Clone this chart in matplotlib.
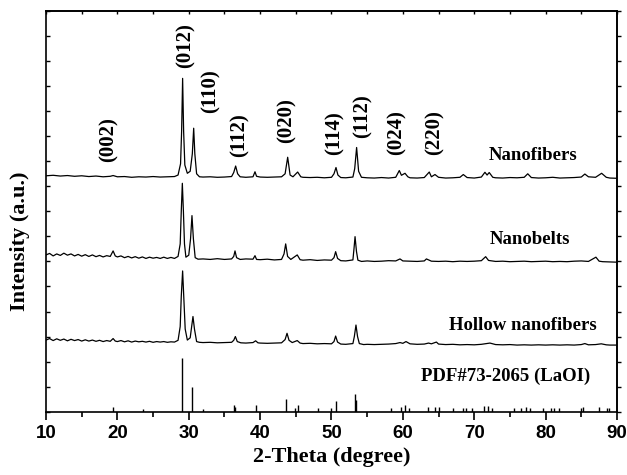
import numpy as np
import matplotlib
matplotlib.use('Agg')
import matplotlib.pyplot as plt
from matplotlib.ticker import MultipleLocator, NullFormatter

# ------------------
# XRD patterns (2-theta, offset intensity)

nf_x = [10.0, 11.0, 12.0, 13.0, 14.0, 15.0, 16.0, 17.0, 18.0, 19.0, 19.4, 20.0, 21.0, 22.0, 23.0,
        24.0, 25.0, 26.0, 27.0, 28.0, 28.5, 28.85, 29.0, 29.14, 29.28, 29.45, 29.8, 30.2, 30.5,
        30.69, 30.85, 31.1, 31.5, 32.0, 33.0, 34.0, 35.0, 36.0, 36.3, 36.57, 36.85, 37.2, 38.0,
        39.0, 39.28, 39.5, 40.0, 41.0, 42.0, 43.0, 43.5, 43.86, 44.2, 44.6, 45.26, 45.7, 46.0,
        47.0, 48.0, 49.0, 50.0, 50.35, 50.63, 50.9, 51.3, 52.0, 53.0, 53.25, 53.52, 53.8, 54.2,
        55.0, 56.0, 57.0, 58.0, 59.0, 59.5, 59.8, 60.3, 60.7, 61.0, 62.0, 63.0, 63.7, 64.0, 64.5,
        65.0, 66.0, 67.0, 68.0, 68.47, 69.0, 70.0, 71.0, 71.5, 71.8, 72.1, 72.6, 73.0, 74.0, 75.0,
        76.0, 77.0, 77.5, 78.0, 79.0, 80.0, 81.0, 82.0, 83.0, 84.0, 85.0, 85.5, 86.0, 87.0, 87.85,
        88.5, 89.0, 90.0]
nf_y = [9.42, 9.44, 9.41, 9.43, 9.40, 9.42, 9.39, 9.41, 9.38, 9.40, 9.43, 9.38, 9.39, 9.36, 9.38,
        9.37, 9.39, 9.37, 9.38, 9.39, 9.45, 9.90, 11.2, 13.31, 11.2, 9.85, 9.52, 9.60, 10.3,
        11.32, 10.3, 9.50, 9.38, 9.37, 9.38, 9.36, 9.37, 9.39, 9.55, 9.81, 9.50, 9.38, 9.36,
        9.38, 9.58, 9.40, 9.37, 9.36, 9.37, 9.38, 9.50, 10.16, 9.45, 9.38, 9.57, 9.38, 9.36,
        9.35, 9.36, 9.34, 9.36, 9.50, 9.75, 9.45, 9.35, 9.34, 9.37, 9.70, 10.55, 9.60, 9.36,
        9.34, 9.33, 9.35, 9.33, 9.36, 9.63, 9.44, 9.52, 9.38, 9.34, 9.33, 9.35, 9.57, 9.38, 9.47,
        9.36, 9.33, 9.34, 9.36, 9.47, 9.35, 9.33, 9.37, 9.56, 9.45, 9.55, 9.36, 9.34, 9.33, 9.35,
        9.34, 9.36, 9.50, 9.35, 9.33, 9.34, 9.36, 9.33, 9.34, 9.35, 9.37, 9.49, 9.38, 9.36, 9.52,
        9.36, 9.33, 9.32]

nb_x = [10.0, 10.5, 11.0, 11.5, 12.0, 12.5, 13.0, 13.5, 14.0, 14.5, 15.0, 15.5, 16.0, 16.5, 17.0,
        17.5, 18.0, 18.5, 19.0, 19.4, 19.7, 20.0, 20.5, 21.0, 21.5, 22.0, 22.5, 23.0, 23.5, 24.0,
        24.5, 25.0, 25.5, 26.0, 26.5, 27.0, 27.5, 28.0, 28.5, 28.8, 28.95, 29.1, 29.25, 29.4,
        29.6, 30.0, 30.25, 30.45, 30.65, 30.9, 31.3, 32.0, 33.0, 34.0, 35.0, 36.0, 36.3, 36.48,
        36.7, 37.2, 38.0, 39.0, 39.28, 39.5, 40.0, 41.0, 42.0, 43.0, 43.35, 43.58, 43.85, 44.3,
        45.2, 45.6, 46.0, 47.0, 48.0, 49.0, 50.0, 50.35, 50.58, 50.85, 51.3, 52.0, 53.0, 53.15,
        53.3, 53.5, 53.7, 54.2, 55.0, 56.0, 57.0, 58.0, 59.0, 59.6, 60.0, 61.0, 62.0, 63.0, 63.3,
        64.0, 65.0, 66.0, 67.0, 68.0, 69.0, 70.0, 71.0, 71.6, 72.0, 73.0, 74.0, 75.0, 76.0, 77.0,
        78.0, 79.0, 80.0, 81.0, 82.0, 83.0, 84.0, 85.0, 86.0, 87.05, 87.5, 88.0, 89.0, 90.0]
nb_y = [6.26, 6.32, 6.22, 6.30, 6.24, 6.33, 6.25, 6.30, 6.22, 6.28, 6.21, 6.27, 6.20, 6.26, 6.19,
        6.24, 6.18, 6.23, 6.20, 6.42, 6.22, 6.18, 6.22, 6.15, 6.20, 6.14, 6.19, 6.13, 6.18, 6.12,
        6.17, 6.13, 6.16, 6.12, 6.17, 6.12, 6.16, 6.12, 6.20, 6.70, 8.00, 9.12, 8.00, 6.70,
        6.17, 6.25, 6.90, 7.83, 6.90, 6.15, 6.09, 6.10, 6.08, 6.11, 6.08, 6.10, 6.20, 6.42,
        6.15, 6.08, 6.10, 6.09, 6.23, 6.08, 6.07, 6.09, 6.06, 6.08, 6.30, 6.70, 6.20, 6.08,
        6.26, 6.07, 6.05, 6.07, 6.04, 6.06, 6.05, 6.15, 6.39, 6.12, 6.03, 6.02, 6.06, 6.50,
        6.99, 6.40, 6.05, 6.00, 6.02, 6.00, 6.01, 6.03, 6.02, 6.10, 6.02, 6.01, 6.00, 6.02, 6.10,
        6.01, 6.00, 6.01, 5.99, 6.01, 6.00, 6.01, 6.03, 6.19, 6.04, 6.00, 6.01, 5.99, 6.00, 6.01,
        5.99, 6.00, 6.01, 5.99, 6.00, 5.99, 6.01, 6.02, 6.00, 6.17, 6.01, 5.99, 5.98, 5.97]

hn_x = [10.0, 10.5, 11.0, 11.5, 12.0, 12.5, 13.0, 13.5, 14.0, 14.5, 15.0, 15.5, 16.0, 16.5, 17.0,
        17.5, 18.0, 18.5, 19.0, 19.4, 19.7, 20.0, 20.5, 21.0, 21.5, 22.0, 22.5, 23.0, 23.5, 24.0,
        24.5, 25.0, 25.5, 26.0, 26.5, 27.0, 27.5, 28.0, 28.5, 28.8, 28.95, 29.14, 29.3, 29.5,
        29.8, 30.2, 30.4, 30.59, 30.8, 31.1, 31.5, 32.0, 33.0, 34.0, 35.0, 36.0, 36.3, 36.53,
        36.8, 37.3, 38.0, 39.0, 39.37, 39.7, 40.0, 41.0, 42.0, 43.0, 43.5, 43.77, 44.05, 44.5,
        45.2, 45.6, 46.0, 47.0, 48.0, 49.0, 50.0, 50.35, 50.58, 50.85, 51.3, 52.0, 53.0, 53.2,
        53.43, 53.65, 53.9, 54.5, 55.0, 56.0, 57.0, 58.0, 59.0, 59.6, 60.0, 60.44, 61.0, 62.0,
        63.0, 63.6, 64.0, 64.7, 65.0, 66.0, 67.0, 68.0, 69.0, 70.0, 71.0, 72.2, 73.0, 74.0, 75.0,
        76.0, 77.0, 78.0, 79.0, 80.0, 81.0, 82.0, 83.0, 84.0, 85.0, 85.5, 86.0, 87.0, 87.8, 88.5,
        89.0, 90.0]
hn_y = [2.86, 2.92, 2.84, 2.91, 2.85, 2.90, 2.83, 2.89, 2.84, 2.88, 2.82, 2.87, 2.82, 2.86, 2.81,
        2.85, 2.80, 2.84, 2.81, 2.92, 2.82, 2.80, 2.84, 2.79, 2.83, 2.78, 2.82, 2.79, 2.81, 2.78,
        2.81, 2.77, 2.80, 2.78, 2.80, 2.77, 2.79, 2.78, 2.85, 3.40, 4.60, 5.62, 4.60, 3.30,
        2.86, 2.95, 3.40, 3.80, 3.30, 2.80, 2.77, 2.76, 2.77, 2.75, 2.76, 2.77, 2.85, 3.00,
        2.80, 2.75, 2.74, 2.76, 2.83, 2.75, 2.74, 2.73, 2.74, 2.75, 2.88, 3.13, 2.85, 2.76,
        2.84, 2.74, 2.72, 2.73, 2.71, 2.72, 2.71, 2.80, 3.02, 2.78, 2.70, 2.69, 2.72, 3.00,
        3.46, 3.00, 2.72, 2.68, 2.69, 2.68, 2.69, 2.70, 2.72, 2.76, 2.73, 2.80, 2.71, 2.69,
        2.70, 2.74, 2.71, 2.78, 2.70, 2.68, 2.69, 2.67, 2.68, 2.67, 2.69, 2.74, 2.68, 2.67, 2.68,
        2.66, 2.67, 2.66, 2.67, 2.66, 2.67, 2.66, 2.67, 2.66, 2.68, 2.72, 2.67, 2.68, 2.71, 2.67,
        2.66, 2.66]

# PDF#73-2065 reference lines
pdf_pos = [19.43, 23.6, 29.09, 30.45, 32.03, 36.38, 36.5, 39.46, 43.61, 44.87, 45.34, 48.15,
           49.93, 50.63, 53.3, 53.5, 58.3, 59.7, 60.3, 60.86, 63.47, 64.5, 65.1, 67.07, 68.47,
           68.8, 69.7, 71.36, 71.88, 72.44, 75.57, 76.5, 77.25, 77.8, 79.6, 80.7, 81.2, 81.87,
           84.95, 85.28, 87.47, 88.55, 88.9]
pdf_int = [0.20, 0.12, 2.13, 0.97, 0.12, 0.27, 0.20, 0.25, 0.49, 0.16, 0.28, 0.16,
           0.13, 0.43, 0.71, 0.47, 0.16, 0.20, 0.27, 0.16, 0.20, 0.20, 0.17, 0.13, 0.16,
           0.16, 0.16, 0.23, 0.23, 0.16, 0.13, 0.16, 0.17, 0.16, 0.13, 0.16, 0.16, 0.16,
           0.13, 0.20, 0.20, 0.13, 0.13]

hkl_text = ['(002)', '(012)', '(110)', '(112)', '(020)', '(114)', '(112)', '(024)', '(220)']
hkl_x = [18.7, 29.5, 33.06, 37.08, 43.7, 50.5, 54.37, 59.13, 64.5]
hkl_y = [10.85, 14.62, 12.82, 11.05, 11.62, 11.11, 11.81, 11.15, 11.15]

sample_text = ['Nanofibers', 'Nanobelts', 'Hollow nanofibers', 'PDF#73-2065 (LaOI)']
sample_x = [78.2, 77.8, 76.8, 74.4]
sample_y = [10.24, 6.86, 3.46, 1.40]


serif = 'Liberation Serif'
sans = 'Liberation Sans'

fig = plt.figure(figsize=(6.27, 4.75), dpi=100)
ax = fig.add_axes((0.0734, 0.1333, 0.9106, 0.8435))

for xs, ys in [(nf_x, nf_y), (nb_x, nb_y), (hn_x, hn_y)]:
    ax.plot(xs, ys, color='k', lw=0.9)

ax.vlines(pdf_pos, 0, pdf_int, color='k', lw=1.0)

for t, x, y in zip(hkl_text, hkl_x, hkl_y):
    ax.text(x, y, t, rotation=90, ha='center', va='center',
            fontsize=15, fontweight='bold', family=serif)

for t, x, y in zip(sample_text, sample_x, sample_y):
    ax.text(x, y, t, ha='center', va='center',
            fontsize=13.5, fontweight='bold', family=serif)

ax.set_xlim(10, 90)
ax.set_ylim(0, 16)

# bottom axis: outward major/minor ticks with labels
ax.xaxis.set_major_locator(MultipleLocator(10))
ax.xaxis.set_minor_locator(MultipleLocator(5))
ax.tick_params(axis='x', which='major', direction='out', length=6, width=1.2)
ax.tick_params(axis='x', which='minor', direction='out', length=3.5, width=1.2)
for lab in ax.get_xticklabels():
    lab.set_fontfamily(sans)
    lab.set_fontweight('bold')
    lab.set_fontsize(13.5)

# left axis: inward ticks, no labels
ax.yaxis.set_major_locator(MultipleLocator(1))
ax.yaxis.set_major_formatter(NullFormatter())
ax.tick_params(axis='y', which='major', direction='in', length=3, width=1.0)

# top axis: inward ticks every 5
top = ax.secondary_xaxis('top')
top.xaxis.set_major_locator(MultipleLocator(5))
top.xaxis.set_major_formatter(NullFormatter())
top.tick_params(direction='in', length=2.5, width=1.0)

# right axis: outward ticks every 1
right = ax.secondary_yaxis('right')
right.yaxis.set_major_locator(MultipleLocator(1))
right.yaxis.set_major_formatter(NullFormatter())
right.tick_params(direction='out', length=3, width=1.0)

for sp in list(ax.spines.values()) + [top.spines['top'], right.spines['right']]:
    sp.set_linewidth(1.2)

ax.set_xlabel('2-Theta (degree)', fontsize=16, fontweight='bold', family=serif, labelpad=4)
ax.set_ylabel('Intensity (a.u.)', fontsize=16, fontweight='bold', family=serif)
ax.yaxis.set_label_coords(-0.028, 0.426)

fig.savefig('out.png', dpi=100)
